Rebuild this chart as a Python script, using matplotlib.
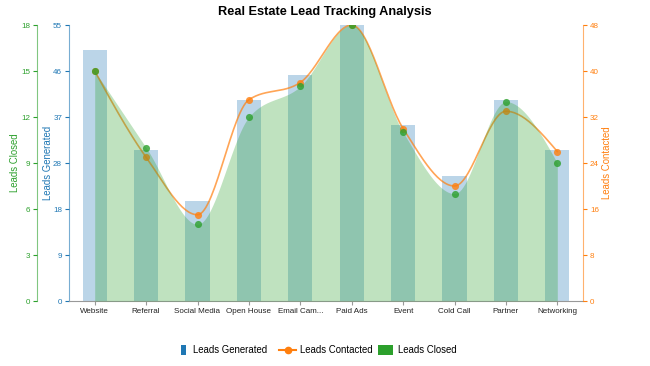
import numpy as np
import matplotlib
matplotlib.use("Agg")
import matplotlib.pyplot as plt
from matplotlib.lines import Line2D
from matplotlib.patches import Rectangle

plt.rcParams['font.family'] = ['Liberation Sans', 'DejaVu Sans']

categories = ["Website", "Referral", "Social Media", "Open House", "Email Cam...",
              "Paid Ads", "Event", "Cold Call", "Partner", "Networking"]
leads_generated = [50, 30, 20, 40, 45, 55, 35, 25, 40, 30]
leads_contacted = [40, 25, 15, 35, 38, 48, 30, 20, 33, 26]
leads_closed = [15, 10, 5, 12, 14, 18, 11, 7, 13, 9]

gen_ticks = [0, 55/6, 110/6, 27.5, 220/6, 275/6, 55]
gen_tick_labels = ["0", "9", "18", "28", "37", "46", "55"]
closed_ticks = [0, 3, 6, 9, 12, 15, 18]
contacted_ticks = [0, 8, 16, 24, 32, 40, 48]
legend_labels = ["Leads Generated", "Leads Contacted", "Leads Closed"]

BLUE = "#1f77b4"
ORANGE = "#ff7f0e"
GREEN = "#2ca02c"

W, H = 650, 366


def monotone_x(x, y, n=30):
    x = np.asarray(x, float); y = np.asarray(y, float)
    h = np.diff(x); s = np.diff(y) / h
    m = np.zeros_like(y)
    for i in range(1, len(y) - 1):
        s0, s1 = s[i - 1], s[i]
        p = (s0 * h[i] + s1 * h[i - 1]) / (h[i - 1] + h[i])
        m[i] = (np.sign(s0) + np.sign(s1)) * min(abs(s0), abs(s1), 0.5 * abs(p))
    m[0] = (3 * s[0] - m[1]) / 2
    m[-1] = (3 * s[-1] - m[-2]) / 2
    xs, ys = [], []
    for i in range(len(y) - 1):
        t = np.linspace(0, 1, n, endpoint=(i == len(y) - 2))
        h00 = 2*t**3 - 3*t**2 + 1; h10 = t**3 - 2*t**2 + t
        h01 = -2*t**3 + 3*t**2; h11 = t**3 - t**2
        xs.append(x[i] + t * h[i])
        ys.append(h00*y[i] + h10*h[i]*m[i] + h01*y[i+1] + h11*h[i]*m[i+1])
    return np.concatenate(xs), np.concatenate(ys)


fig = plt.figure(figsize=(6.5, 3.66), dpi=100)
ax = fig.add_axes([69/W, 65/H, 514/W, 276/H])
ax_c = ax.twinx()
ax_o = ax.twinx()

x = np.arange(len(categories))
ax.bar(x, leads_generated, width=0.47, color=BLUE, alpha=0.3, zorder=1)
ax.set_ylim(0, 55)
ax.set_xlim(-0.5, len(categories) - 0.5)

xs, ys = monotone_x(x, leads_closed)
ax_c.fill_between(xs, 0, ys, color=GREEN, alpha=0.3, lw=0, zorder=1)
ax_c.set_ylim(0, 18)

xs2, ys2 = monotone_x(x, leads_contacted)
ax_o.plot(xs2, ys2, color=ORANGE, lw=1.2, alpha=0.7, zorder=3)
ax_o.scatter(x, leads_contacted, s=26, color=ORANGE, alpha=0.8, lw=0, zorder=4)
ax_o.set_ylim(0, 48)

ax_c.set_zorder(3)
ax_c.patch.set_visible(False)
ax_o.set_zorder(2)
ax_o.patch.set_visible(False)
ax_c.scatter(x, leads_closed, s=26, color=GREEN, alpha=0.8, lw=0, zorder=5)

# blue axis
ax.set_yticks(gen_ticks)
ax.set_yticklabels(gen_tick_labels)
ax.tick_params(axis='y', colors=BLUE, labelsize=5.8, length=3, width=0.8, pad=2)
ax.spines['left'].set_color(BLUE)
ax.spines['left'].set_alpha(0.6)
ax.spines['top'].set_visible(False)
ax.spines['right'].set_visible(False)
ax.spines['bottom'].set_color('#999999')
ax.set_ylabel("Leads Generated", color=BLUE, fontsize=6.9)
ax.yaxis.set_label_coords((53 - 69) / 514, 0.5)

ax.set_xticks(x)
ax.set_xticklabels(categories)
ax.tick_params(axis='x', colors='#999999', labelcolor='#222222', labelsize=5.8, length=3, pad=2)

# green axis
ax_c.yaxis.set_ticks_position('left')
ax_c.yaxis.set_label_position('left')
ax_c.spines['left'].set_position(('outward', 32 * 72 / 100))
ax_c.spines['left'].set_visible(True)
ax_c.spines['left'].set_color(GREEN)
ax_c.spines['left'].set_alpha(0.6)
for sp in ['right', 'top', 'bottom']:
    ax_c.spines[sp].set_visible(False)
ax_c.set_yticks(closed_ticks)
ax_c.tick_params(axis='y', colors=GREEN, labelsize=5.8, length=3, width=0.8, pad=2)
ax_c.set_ylabel("Leads Closed", color=GREEN, fontsize=6.9)
ax_c.yaxis.set_label_coords((20 - 69) / 514, 0.5)

# orange axis
for sp in ['left', 'top', 'bottom']:
    ax_o.spines[sp].set_visible(False)
ax_o.spines['right'].set_color(ORANGE)
ax_o.spines['right'].set_alpha(0.6)
ax_o.set_yticks(contacted_ticks)
ax_o.tick_params(axis='y', colors=ORANGE, labelsize=5.8, length=3, width=0.8, pad=2)
ax_o.set_ylabel("Leads Contacted", color=ORANGE, fontsize=6.9)
ax_o.yaxis.set_label_coords((602 - 69) / 514, 0.5)

fig.text(0.5, 1 - 12/H, "Real Estate Lead Tracking Analysis", ha='center', va='center',
         fontsize=9.2, fontweight='bold')

# manual legend (pixel layout)
ly = 350
fig.patches.append(Rectangle((181/W, 1 - 355/H), 5/W, 10/H, transform=fig.transFigure,
                             facecolor=BLUE, edgecolor='none'))
fig.text(193/W, 1 - ly/H, legend_labels[0], ha='left', va='center', fontsize=6.9)
fig.lines.append(Line2D([279/W, 296/W], [1 - ly/H, 1 - ly/H], transform=fig.transFigure,
                        color=ORANGE, lw=1.5))
fig.lines.append(Line2D([287.5/W], [1 - ly/H], transform=fig.transFigure,
                        color=ORANGE, marker='o', markersize=4.5, lw=0))
fig.text(300/W, 1 - ly/H, legend_labels[1], ha='left', va='center', fontsize=6.9)
fig.patches.append(Rectangle((378/W, 1 - 355/H), 15/W, 10/H, transform=fig.transFigure,
                             facecolor=GREEN, edgecolor='none'))
fig.text(398/W, 1 - ly/H, legend_labels[2], ha='left', va='center', fontsize=6.9)

fig.savefig("out.png", dpi=100)
